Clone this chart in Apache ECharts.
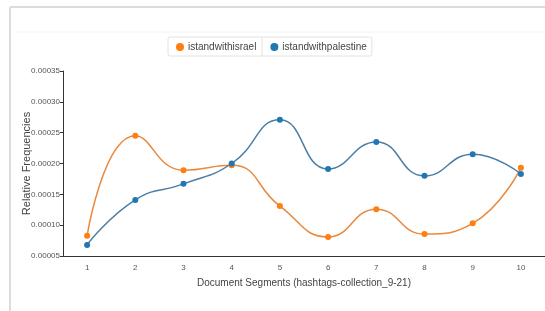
<!DOCTYPE html>
<html>
<head>
<meta charset="UTF-8">
<script src="https://cdn.jsdelivr.net/npm/echarts@6/dist/echarts.min.js"></script>
<style>
    * { margin: 0; padding: 0; }
    body { background: #fff; }
    #main { width: 545px; height: 311px; }
</style>
</head>
<body>
<div id="main"></div>
<script>
    // 数据
    var segments = ['1', '2', '3', '4', '5', '6', '7', '8', '9', '10'];
    var israel = [0.000083, 0.000245, 0.000189, 0.000197, 0.000131, 0.000081, 0.000126, 0.0000855, 0.000103, 0.000193];
    var palestine = [0.000068, 0.000141, 0.000167, 0.000200, 0.000271, 0.000191, 0.000235, 0.000180, 0.000215, 0.000183];

    var myChart = echarts.init(document.getElementById('main'));

    var option = {
        animation: false,
        textStyle: { fontFamily: 'Liberation Sans, Arial, sans-serif' },
        // 外框线
        graphic: [
            { type: 'line', shape: { x1: 10, y1: 7, x2: 545, y2: 7 }, style: { stroke: '#dcdcdc', lineWidth: 2 } },
            { type: 'line', shape: { x1: 10, y1: 7, x2: 10, y2: 311 }, style: { stroke: '#dcdcdc', lineWidth: 2 } },
            { type: 'line', shape: { x1: 15, y1: 32, x2: 545, y2: 32 }, style: { stroke: '#f4f4f4', lineWidth: 1 } },
            { type: 'line', shape: { x1: 262, y1: 38, x2: 262, y2: 56 }, style: { stroke: '#e2e2e2', lineWidth: 1 } }
        ],
        legend: {
            top: 37,
            left: 168,
            itemGap: 14,
            itemWidth: 8,
            itemHeight: 8,
            padding: [5, 5, 4, 8],
            borderColor: '#e2e2e2',
            borderWidth: 1,
            borderRadius: 2,
            icon: 'circle',
            textStyle: { fontSize: 10, color: '#444', padding: [0, 0, 0, -1] },
            data: ['istandwithisrael', 'istandwithpalestine']
        },
        grid: { left: 63, right: 0, top: 71, bottom: 55 },
        xAxis: {
            type: 'category',
            data: segments,
            boundaryGap: true,
            name: 'Document Segments (hashtags-collection_9-21)',
            nameLocation: 'middle',
            nameGap: 22,
            nameMoveOverlap: false,
            nameTextStyle: { fontSize: 10, color: '#444' },
            axisLine: { lineStyle: { color: '#333', width: 1 } },
            axisTick: { alignWithLabel: true, length: 4, lineStyle: { color: '#333' } },
            axisLabel: { fontSize: 8, color: '#555', margin: 8 }
        },
        yAxis: {
            type: 'value',
            min: 0.00005,
            max: 0.00035,
            interval: 0.00005,
            name: 'Relative Frequencies',
            nameLocation: 'middle',
            nameGap: 31,
            nameMoveOverlap: false,
            nameTextStyle: { fontSize: 11, color: '#444' },
            splitLine: { show: false },
            axisLine: { show: true, lineStyle: { color: '#333', width: 1 } },
            axisTick: { show: true, length: 3, lineStyle: { color: '#333' } },
            axisLabel: {
                fontSize: 8,
                color: '#555',
                margin: 3,
                formatter: function (v) { return v.toFixed(5); }
            }
        },
        series: [
            {
                name: 'istandwithisrael',
                type: 'line',
                data: israel,
                smooth: 0.5,
                symbol: 'circle',
                symbolSize: 6,
                itemStyle: { color: '#ff7f0e' },
                lineStyle: { color: '#e8893e', width: 1.5 }
            },
            {
                name: 'istandwithpalestine',
                type: 'line',
                data: palestine,
                smooth: 0.5,
                symbol: 'circle',
                symbolSize: 6,
                itemStyle: { color: '#1f77b4' },
                lineStyle: { color: '#4a7ea6', width: 1.5 }
            }
        ]
    };
    myChart.setOption(option);
</script>
</body>
</html>
